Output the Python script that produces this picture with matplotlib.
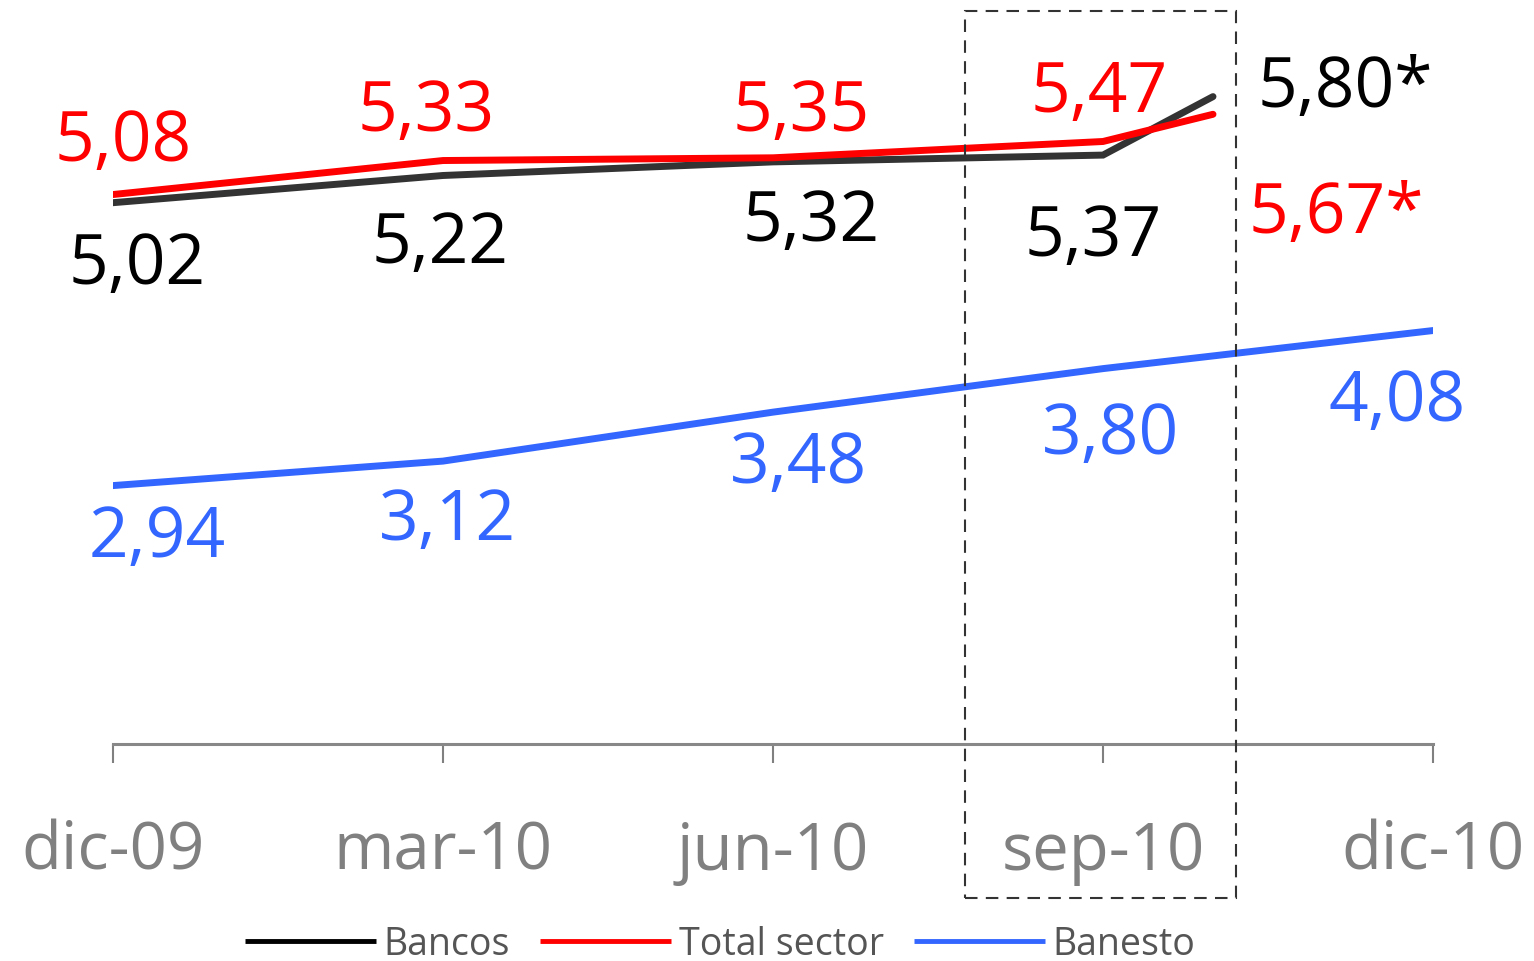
import numpy as np
import matplotlib.pyplot as plt
from matplotlib.patches import Rectangle

plt.rcParams['font.family'] = ['Open Sans', 'DejaVu Sans']

# datos (indice de mes desde dic-09)
meses_bancos = [0, 3, 6, 9, 10]
bancos = [5.02, 5.22, 5.32, 5.37, 5.80]
meses_sector = [0, 3, 6, 9, 10]
total_sector = [5.08, 5.33, 5.35, 5.47, 5.67]
meses_banesto = [0, 3, 6, 9, 12]
banesto = [2.94, 3.12, 3.48, 3.80, 4.08]
etiq_bancos = ['5,02', '5,22', '5,32', '5,37', '5,80*']
etiq_sector = ['5,08', '5,33', '5,35', '5,47', '5,67*']
etiq_banesto = ['2,94', '3,12', '3,48', '3,80', '4,08']
ticks = [0, 3, 6, 9, 12]
tick_labels = ['dic-09', 'mar-10', 'jun-10', 'sep-10', 'dic-10']

# desplazamientos de las etiquetas (pixeles)
off_bancos = [(24, -80), (-3, -87), (38, -78), (-10, -100), (132, -9)]
off_sector = [(10, 35), (-17, 31), (28, 28), (-4, 30), (123, -118)]
off_banesto = [(44, -70), (5, -78), (26, -70), (8, -84), (-36, -89)]

c_bancos = '#333333'
c_sector = '#ff0000'
c_banesto = '#3366ff'

W, H = 1534, 962
fig = plt.figure(figsize=(W / 100, H / 100), dpi=100)
ax = fig.add_axes([113 / W, 1 - 745 / H, (1433 - 113) / W, (745 - 2.4) / H])

ax.plot(meses_bancos, bancos, color=c_bancos, lw=5, solid_capstyle='round',
        solid_joinstyle='miter', label='Bancos', zorder=3)
ax.plot(meses_sector, total_sector, color=c_sector, lw=5, solid_capstyle='round',
        label='Total sector', zorder=4)
ax.plot(meses_banesto, banesto, color=c_banesto, lw=5, solid_capstyle='round',
        label='Banesto', zorder=3)

for xs, ys, labs, offs, col in [
        (meses_bancos, bancos, etiq_bancos, off_bancos, '#000000'),
        (meses_sector, total_sector, etiq_sector, off_sector, c_sector),
        (meses_banesto, banesto, etiq_banesto, off_banesto, c_banesto)]:
    for x, y, t, o in zip(xs, ys, labs, offs):
        ax.annotate(t, (x, y), xytext=o, textcoords='offset pixels',
                    ha='center', va='baseline', fontsize=50, color=col)

ax.set_xlim(0, 12)
ax.set_ylim(1.04, 6.5)
ax.set_yticks([])
for s in ['top', 'right', 'left']:
    ax.spines[s].set_visible(False)
ax.spines['bottom'].set_color('#888888')
ax.spines['bottom'].set_linewidth(2.2)
ax.set_xticks(ticks)
ax.set_xticklabels(tick_labels, fontsize=47, color='#808080')
ax.tick_params(axis='x', length=14, width=1.5, color='#808080', pad=40)

# recuadro discontinuo
fig.patches.append(Rectangle((965 / W, 1 - 899 / H), 271 / W, 887 / H,
                             transform=fig.transFigure, fill=False,
                             edgecolor='#333333', lw=1.5, ls=(0, (6, 4)),
                             zorder=5))

h, l = ax.get_legend_handles_labels()
leg = fig.legend(h, l, loc='center', bbox_to_anchor=(720 / W, 1 - 945 / H),
                 ncol=3, frameon=False, fontsize=27, handlelength=3.5,
                 handletextpad=0.2, columnspacing=0.8, borderaxespad=0)
for t in leg.get_texts():
    t.set_color('#555555')
leg.legend_handles[0].set_color('#000000')
for lh in leg.legend_handles:
    lh.set_linewidth(3.5)
    lh.set_solid_capstyle('butt')

fig.savefig('out.png', dpi=100)
